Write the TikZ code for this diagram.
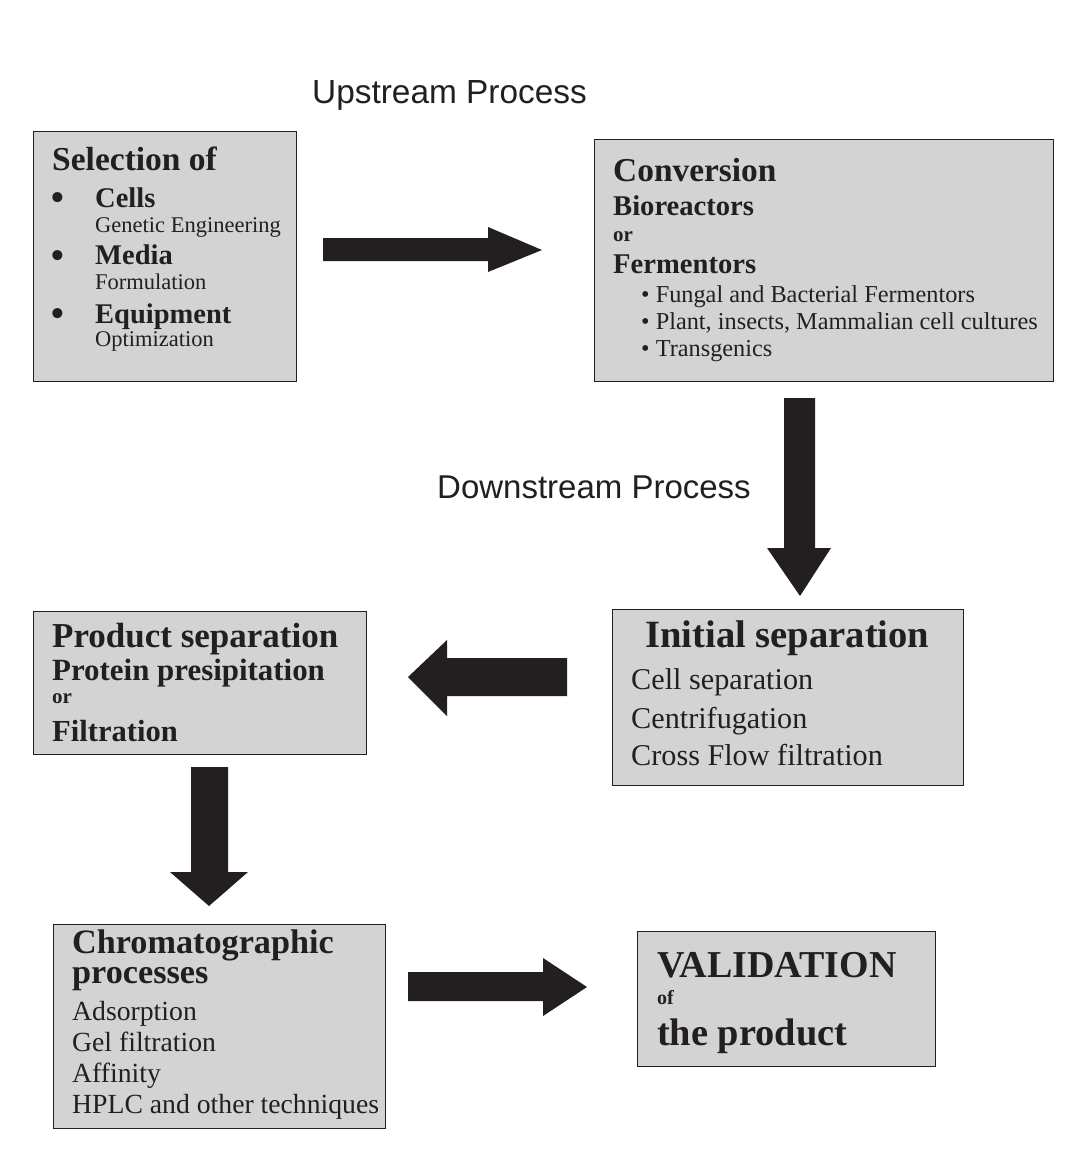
\documentclass[tikz,border=0pt]{standalone}
\usepackage{fontspec}
\setmainfont{Liberation Serif}
\newfontfamily\sansf{Liberation Sans}
\definecolor{boxgray}{RGB}{211,211,211}
\definecolor{ink}{RGB}{35,31,32}
\newcommand\fsz[1]{\fontsize{#1}{#1}\selectfont}
\begin{document}
\begin{tikzpicture}[x=1pt,y=-1pt,
  box/.style={draw=ink, line width=1.1pt, fill=boxgray, inner sep=0pt, anchor=north west},
  txt/.style={anchor=base west, inner sep=0pt, text=ink},
  bul/.style={anchor=base, inner sep=0pt, text=ink, font=\fsz{42}},
  blk/.style={fill=ink}]
\useasboundingbox (0,0) rectangle (1073,1154);

% boxes
\node[box, minimum width=263pt, minimum height=250pt] (b1) at (33,131) {};
\node[box, minimum width=459pt, minimum height=242pt] (b2) at (594,139) {};
\node[box, minimum width=351pt, minimum height=176pt] (b3) at (612,609) {};
\node[box, minimum width=333pt, minimum height=143pt] (b4) at (33,611) {};
\node[box, minimum width=332pt, minimum height=204pt] (b5) at (53,924) {};
\node[box, minimum width=298pt, minimum height=135pt] (b6) at (637,931) {};

% titles
\node[txt] (up) at (312,103) {\sansf\fsz{33.4}Upstream Process};
\node[txt] (down) at (437,498) {\sansf\fsz{33}Downstream Process};

% box 1
\node[txt] (b1t) at (52,170) {\fsz{33.5}\bfseries Selection of};
\node[bul] (b1u1) at (58,211) {•};
\node[bul] (b1u2) at (58,269) {•};
\node[bul] (b1u3) at (58,327) {•};
\node[txt] (b1a) at (95,207) {\fsz{28.5}\bfseries Cells};
\node[txt] (b1b) at (95,232) {\fsz{22.5}Genetic Engineering};
\node[txt] (b1c) at (95,264) {\fsz{28.5}\bfseries Media};
\node[txt] (b1d) at (95,289) {\fsz{22.5}Formulation};
\node[txt] (b1e) at (95,323) {\fsz{28.5}\bfseries Equipment};
\node[txt] (b1f) at (95,346) {\fsz{22.5}Optimization};

% box 2
\node[txt] (b2t) at (613,181) {\fsz{33.4}\bfseries Conversion};
\node[txt] (b2a) at (613,215) {\fsz{28.6}\bfseries Bioreactors};
\node[txt] (b2b) at (613,241) {\fsz{21}\bfseries or};
\node[txt] (b2c) at (613,273) {\fsz{28.6}\bfseries Fermentors};
\node[txt] (b2d) at (641,302) {\fsz{24.3}• Fungal and Bacterial Fermentors};
\node[txt] (b2e) at (641,329) {\fsz{24.3}• Plant, insects, Mammalian cell cultures};
\node[txt] (b2f) at (641,356) {\fsz{24.3}• Transgenics};

% box 3
\node[txt] (b3t) at (645,647) {\fsz{38.6}\bfseries Initial separation};
\node[txt] (b3a) at (631,689) {\fsz{30.2}Cell separation};
\node[txt] (b3b) at (631,728) {\fsz{30.2}Centrifugation};
\node[txt] (b3c) at (631,765) {\fsz{30.2}Cross Flow filtration};

% box 4
\node[txt] (b4t) at (52,647) {\fsz{35}\bfseries Product separation};
\node[txt] (b4a) at (52,680) {\fsz{30.9}\bfseries Protein presipitation};
\node[txt] (b4b) at (52,703) {\fsz{21}\bfseries or};
\node[txt] (b4c) at (52,741) {\fsz{30.6}\bfseries Filtration};

% box 5
\node[txt] (b5t) at (72,953) {\fontsize{34.2}{30}\selectfont\bfseries
  \begin{tabular}[t]{@{}l@{}}Chromatographic\\processes\end{tabular}};
\node[txt] (b5a) at (72,1020) {\fsz{27.7}Adsorption};
\node[txt] (b5b) at (72,1051) {\fsz{27.7}Gel filtration};
\node[txt] (b5c) at (72,1082) {\fsz{27.7}Affinity};
\node[txt] (b5d) at (72,1113) {\fsz{27.7}HPLC and other techniques};

% box 6
\node[txt] (b6t) at (657,977) {\fsz{38}\bfseries VALIDATION};
\node[txt] (b6a) at (657,1004) {\fsz{20}\bfseries of};
\node[txt] (b6b) at (657,1045) {\fsz{38.4}\bfseries the product};

% block arrows
\fill[blk] (323,238) -- (488,238) -- (488,227) -- (542,250) -- (488,272) -- (488,261) -- (323,261) -- cycle;
\fill[blk] (784,398) -- (784,548) -- (767,548) -- (800,596) -- (831,548) -- (815,548) -- (815,398) -- cycle;
\fill[blk] (567,658) -- (447,658) -- (447,640) -- (408,677) -- (447,716) -- (447,696) -- (567,696) -- cycle;
\fill[blk] (191,767) -- (191,872) -- (170,872) -- (209,906) -- (248,872) -- (228,872) -- (228,767) -- cycle;
\fill[blk] (408,972) -- (543,972) -- (543,958) -- (587,987) -- (543,1016) -- (543,1001) -- (408,1001) -- cycle;
\end{tikzpicture}
\end{document}
